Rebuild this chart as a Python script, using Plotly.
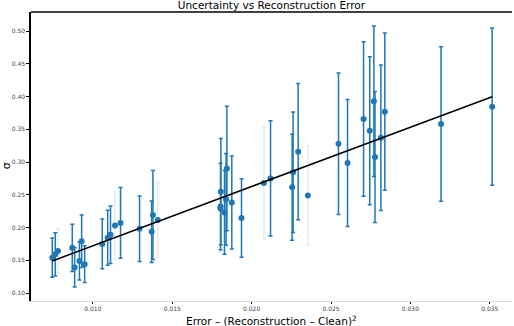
import plotly.graph_objects as go

# values
recon_error = [0.00744, 0.00763, 0.00780, 0.00870, 0.00885, 0.00915, 0.00929, 0.00948,
               0.01059, 0.01093, 0.01111, 0.01139, 0.01174, 0.01294, 0.01370, 0.01378,
               0.01409, 0.01806, 0.01804, 0.01803, 0.01844, 0.01839, 0.01829, 0.01875,
               0.01936, 0.02077, 0.02119, 0.02255, 0.02261, 0.02293, 0.02354, 0.02547,
               0.02604, 0.02705, 0.02744, 0.02770, 0.02777, 0.02814, 0.02839, 0.03193,
               0.03515]
sigma_mean = [0.154, 0.159, 0.164, 0.169, 0.139, 0.149, 0.179, 0.144,
              0.175, 0.1845, 0.189, 0.203, 0.207, 0.198, 0.1935, 0.219,
              0.2115, 0.2547, 0.232, 0.229, 0.290, 0.243, 0.223, 0.238,
              0.2146, 0.268, 0.275, 0.2614, 0.2843, 0.3157, 0.249, 0.328,
              0.2985, 0.3656, 0.3478, 0.3927, 0.3076, 0.337, 0.3768, 0.358,
              0.3844]
sigma_std = [0.030, 0.033, 0.034, 0.036, 0.030, 0.029, 0.040, 0.028,
             0.038, 0.042, 0.044, 0.052, 0.054, 0.050, 0.047, 0.068,
             0.057, 0.081, 0.066, 0.066, 0.095, 0.070, 0.064, 0.071,
             0.060, 0.086, 0.088, 0.081, 0.092, 0.104, 0.076, 0.108,
             0.097, 0.118, 0.113, 0.115, 0.100, 0.111, 0.120, 0.118,
             0.120]
# bars that show up washed out in the picture
faded = [0, 0, 1, 0, 0, 0, 0, 0,
         0, 0, 0, 1, 0, 0, 0, 0,
         1, 0, 0, 1, 0, 0, 0, 0,
         0, 1, 0, 0, 0, 0, 1, 0,
         0, 0, 0, 0, 0, 0, 0, 0,
         0]

# linear fit
fit_slope = 9.05
fit_intercept = 0.0816

BLUE = "#1f77b4"
PALE = "#e4ebf3"


def pick(vals, flag):
    return [v for v, f in zip(vals, faded) if f == flag]


fig = go.Figure()

for flag, col in [(1, PALE), (0, BLUE)]:
    fig.add_trace(go.Scatter(
        x=pick(recon_error, flag), y=pick(sigma_mean, flag),
        mode="markers",
        marker=dict(color=BLUE, size=6),
        error_y=dict(type="data", array=pick(sigma_std, flag),
                     color=col, thickness=1.5, width=2),
        showlegend=False,
    ))

x_lo, x_hi = min(recon_error), max(recon_error)
fig.add_trace(go.Scatter(
    x=[x_lo, x_hi],
    y=[fit_intercept + fit_slope * x_lo, fit_intercept + fit_slope * x_hi],
    mode="lines", line=dict(color="black", width=1.5),
    showlegend=False,
))

# top spine
fig.add_shape(type="line", xref="paper", yref="paper", x0=0, x1=1, y0=1, y1=1,
              line=dict(color="black", width=1.5))

# axis titles placed by hand so the margins stay fixed
fig.add_annotation(text="Error – (Reconstruction – Clean)<sup>2</sup>",
                   xref="paper", yref="paper", x=0.5, y=-0.068,
                   xanchor="center", yanchor="middle", showarrow=False,
                   font=dict(size=10.5, color="black"))
fig.add_annotation(text="σ", textangle=-90,
                   xref="paper", yref="paper", x=-0.052, y=0.47,
                   xanchor="center", yanchor="middle", showarrow=False,
                   font=dict(size=11, color="black"))

fig.update_xaxes(range=[0.0061, 0.0364], automargin=False,
                 tickvals=[0.010, 0.015, 0.020, 0.025, 0.030, 0.035],
                 ticktext=["0.010", "0.015", "0.020", "0.025", "0.030", "0.035"],
                 showgrid=False, zeroline=False,
                 showline=True, linecolor="#d9d9d9", linewidth=1,
                 ticks="outside", ticklen=2, tickcolor="black",
                 tickfont=dict(size=6, color="#444"))
fig.update_yaxes(range=[0.0878, 0.529], automargin=False,
                 tickvals=[0.10, 0.15, 0.20, 0.25, 0.30, 0.35, 0.40, 0.45, 0.50],
                 tickformat=".2f",
                 showgrid=False, zeroline=False,
                 showline=True, linecolor="black", linewidth=1.5,
                 ticks="outside", ticklen=3, tickcolor="black",
                 tickfont=dict(size=6, color="#444"))

fig.update_layout(
    width=514, height=326,
    margin=dict(l=31, r=2, t=12, b=25, autoexpand=False),
    plot_bgcolor="white", paper_bgcolor="white",
    font=dict(family="DejaVu Sans"),
    title=dict(text="Uncertainty vs Reconstruction Error",
               font=dict(size=10.5, color="black"),
               x=0.528, xanchor="center", y=0.995, yanchor="top"),
)

# drop the browser's default page margin so the figure sits at the corner
fig.write_html("out.html", config={"displayModeBar": False},
               post_script="document.body.style.margin='0';")
